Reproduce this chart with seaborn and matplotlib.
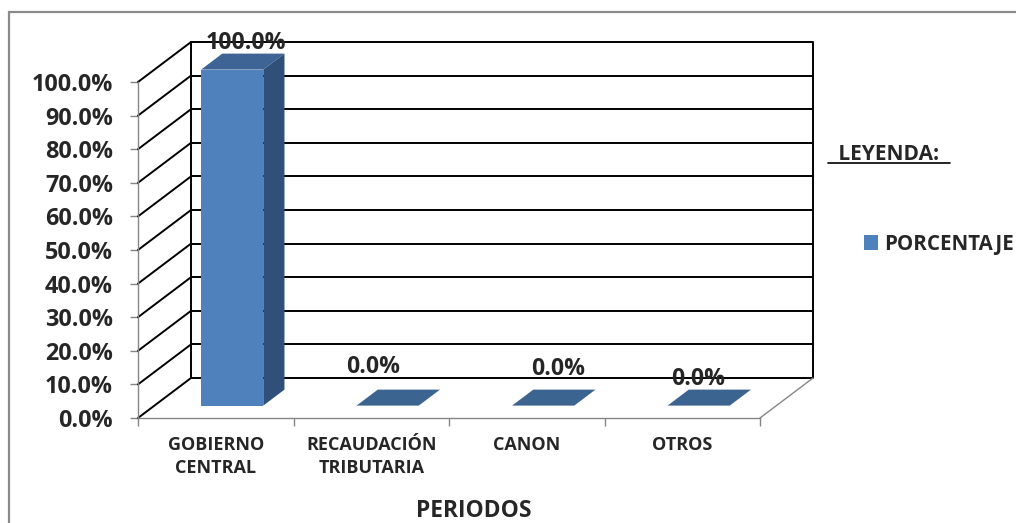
import numpy as np
import pandas as pd
import matplotlib
matplotlib.use("Agg")
import matplotlib.pyplot as plt
import seaborn as sns
from matplotlib.patches import Polygon, Rectangle, Patch
from matplotlib.lines import Line2D

# ---------------- data ----------------
categories = ["GOBIERNO\nCENTRAL", "RECAUDACIÓN\nTRIBUTARIA", "CANON", "OTROS"]
values = [100.0, 0.0, 0.0, 0.0]
series_name = "PORCENTAJE"
y_ticks = [0, 10, 20, 30, 40, 50, 60, 70, 80, 90, 100]
y_tick_labels = ["0.0%", "10.0%", "20.0%", "30.0%", "40.0%", "50.0%",
                 "60.0%", "70.0%", "80.0%", "90.0%", "100.0%"]
x_title = "PERIODOS"
legend_title = " LEYENDA: "

# ---------------- style / layout ----------------
FRONT = "#4F81BD"
TOP = "#3D6494"
SIDE = "#30507A"
FLAT = "#3C6491"
GRAY = "#868686"

sns.set_style("white")
plt.rcParams["font.family"] = ["Open Sans", "DejaVu Sans"]
plt.rcParams["font.weight"] = "bold"

W, H = 1016, 523
fig = plt.figure(figsize=(W / 100, H / 100), dpi=100)
ax = fig.add_axes([138 / W, 1 - 418 / H, (760 - 138) / W, (418 - 82) / H])

# 3-D oblique depth (in data units) and bar depth fractions
DX, DY = 0.3408, 11.9
F0, F1 = 0.31, 0.71
BAR_W = 0.40

df = pd.DataFrame({"cat": categories, "val": values})
sns.barplot(data=df, x="cat", y="val", color=FRONT, saturation=1,
            width=BAR_W, ax=ax, zorder=6, linewidth=0)
ax.set_xlim(-0.5, 3.5)
ax.set_ylim(0, 100)

# back wall gridlines & left wall diagonals
for t in y_ticks:
    ax.plot([-0.5 + DX, 3.5 + DX], [t + DY, t + DY], color="black", lw=1.4,
            clip_on=False, zorder=2, solid_capstyle="butt")
    ax.plot([-0.5, -0.5 + DX], [t, t + DY], color="black", lw=1.4,
            clip_on=False, zorder=2)
for xe in (-0.5 + DX, 3.5 + DX):
    ax.plot([xe, xe], [DY, 100 + DY], color="black", lw=1.4, clip_on=False, zorder=2)
# floor right edge
ax.plot([3.5, 3.5 + DX], [0, DY], color=GRAY, lw=1.0, clip_on=False, zorder=2)

# 3-D bars from the seaborn patches
for p, v in zip(list(ax.patches), values):
    x0, w, h = p.get_x(), p.get_width(), p.get_height()
    p.set_x(x0 + F0 * DX)
    p.set_y(F0 * DY)
    p.set_clip_on(False)
    top = [(x0 + F0 * DX, h + F0 * DY), (x0 + w + F0 * DX, h + F0 * DY),
           (x0 + w + F1 * DX, h + F1 * DY), (x0 + F1 * DX, h + F1 * DY)]
    ax.add_patch(Polygon(top, closed=True, facecolor=TOP if h > 0 else FLAT,
                         edgecolor="none", zorder=7, clip_on=False))
    if h > 0:
        side = [(x0 + w + F0 * DX, F0 * DY), (x0 + w + F1 * DX, F1 * DY),
                (x0 + w + F1 * DX, h + F1 * DY), (x0 + w + F0 * DX, h + F0 * DY)]
        ax.add_patch(Polygon(side, closed=True, facecolor=SIDE,
                             edgecolor="none", zorder=7, clip_on=False))

# data labels (placement nudges mimic the reference)
label_nudge = [(0.02, 3.3), (-0.16, 6.8), (0.03, 6.2), (-0.07, 3.2)]
for i, v in enumerate(values):
    nx, ny = label_nudge[i]
    ax.text(i + 0.5 * DX + nx, v + F1 * DY + ny, f"{v:.1f}%", ha="center",
            va="center", fontsize=16.6, fontweight="bold", zorder=10)

# axes & ticks
for s in ("top", "right"):
    ax.spines[s].set_visible(False)
for s in ("left", "bottom"):
    ax.spines[s].set_color(GRAY)
    ax.spines[s].set_linewidth(1.0)
    ax.spines[s].set_zorder(3)
ax.set_yticks(y_ticks)
ax.set_yticklabels(y_tick_labels, fontsize=16.8, fontweight="bold")
ax.tick_params(axis="y", length=6, width=1, color=GRAY, pad=12, direction="out", left=True)
ax.set_xticks(range(len(categories)))
ax.set_xticklabels(categories, fontsize=13, fontweight="bold", linespacing=1.35)
ax.set_xticks(np.arange(-0.5, len(categories), 1.0), minor=True)
ax.tick_params(axis="x", which="major", length=0, pad=13)
ax.tick_params(axis="x", which="minor", length=6, width=1, color=GRAY, direction="out", bottom=True)
ax.set_xlabel("")
ax.set_ylabel("")
ax.grid(False)
ax.patch.set_alpha(0)

# axis title
fig.text(474 / W, 1 - 511 / H, x_title, ha="center", va="center",
         fontsize=16.5, fontweight="bold")

# legend heading with underline
fig.text(889 / W, 1 - 155 / H, legend_title, ha="center", va="center",
         fontsize=15, fontweight="bold")
fig.add_artist(Line2D([828 / W, 950 / W], [1 - 163 / H, 1 - 163 / H],
                      transform=fig.transFigure, color="black", lw=1.2))

fig.legend(handles=[Patch(facecolor=FRONT, edgecolor="none", label=series_name)],
           loc="center left", bbox_to_anchor=(864 / W, 1 - 244 / H),
           frameon=False, handlelength=0.7, handleheight=0.7,
           handletextpad=0.3, borderpad=0, borderaxespad=0,
           prop={"weight": "bold", "size": 14.8})

# chart border
fig.add_artist(Rectangle((9 / W, -0.2), 1.2, 1.2 - 12 / H, transform=fig.transFigure,
                         fill=False, edgecolor="#8a8a8a", lw=1.6))

fig.savefig("out.png", dpi=100)
